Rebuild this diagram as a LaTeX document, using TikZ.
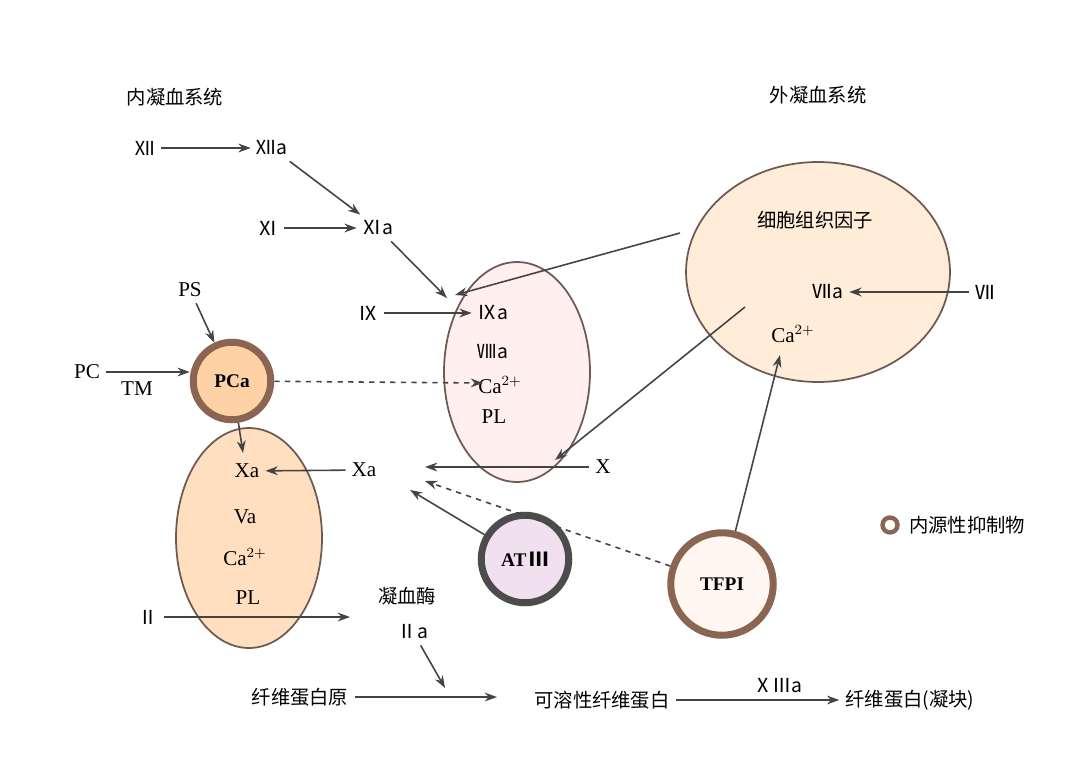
\documentclass[tikz,border=0pt]{standalone}
\usepackage{fontspec}
\setmainfont{Liberation Serif}
\newfontfamily\cjk{Noto Sans CJK SC}
\usetikzlibrary{arrows.meta,shapes.geometric}
\definecolor{ln}{HTML}{444444}
\definecolor{edge}{HTML}{6E5A52}
\definecolor{brn}{HTML}{8A6652}
\begin{document}
\begin{tikzpicture}[x=0.02cm,y=-0.02cm,
  t/.style={font=\fontsize{12}{14}\selectfont},
  c/.style={font=\cjk\fontsize{11}{13}\selectfont},
  ar/.style={draw=ln,line width=0.9pt,-{Stealth[length=7pt,width=5pt]}},
  da/.style={ar,dashed},
  r/.style={font=\cjk\fontsize{11}{13}\selectfont},
  el/.style={ellipse,draw=edge,line width=1pt,inner sep=0},
  inh/.style={circle,line width=4pt,inner sep=0,font=\fontsize{11}{13}\selectfont\bfseries}]
\useasboundingbox[fill=white] (0,0) rectangle (1074,774);
% ellipses
\node[el,fill=pink!25,minimum width=2.92cm,minimum height=4.4cm] (pink) at (517,372) {};
\node[el,fill=orange!25!white,minimum width=2.92cm,minimum height=4.4cm] (orng) at (249,538) {};
\node[el,fill=orange!15!white,minimum width=5.28cm,minimum height=4.4cm] (tiss) at (818,272) {};
% titles
\node[c] (t1) at (175,97) {内凝血系统};
\node[c] (t2) at (818,95) {外凝血系统};
% intrinsic
\node[r] (xii) at (145,148) {Ⅻ};
\node[r] (xiia) at (272,148) {Ⅻa};
\node[r] (xi) at (268,228) {Ⅺ};
\node[r] (xia) at (378,228) {Ⅺa};
\node[r] (ix) at (368,313) {Ⅸ};
\node[r] (ixa) at (493,313) {Ⅸa};
\node[r] (viiia) at (493,352) {Ⅷa};
\node[t] (ca1) at (500,385) {Ca$^{2+}$};
\node[t] (pl1) at (494,417) {PL};
\draw[ar] (xii) -- (xiia);
\draw[ar] (xi) -- (xia);
\draw[ar] (ix) -- (ixa);
\draw[ar] (xiia) -- (xia);
\draw[ar] (xia) -- (447,298);
% extrinsic
\node[c] (tf) at (815,220) {细胞组织因子};
\node[r] (viia) at (828,292) {Ⅶa};
\node[t] (ca2) at (793,334) {Ca$^{2+}$};
\node[r] (vii) at (985,292) {Ⅶ};
\draw[ar] (vii) -- (viia);
\draw[ar] (680,233) -- (455,295);
\draw[ar] (745,307) -- (555,460);
\node[t] (x) at (603,467) {X};
\draw[ar] (x) -- (425,467);
% PC
\node[t] (ps) at (190,290) {PS};
\node[inh,minimum size=1.55cm,fill=orange!35!white,draw=brn] (pca) at (232,381) {PCa};
\draw[ar] (ps) -- (pca);
\node[t] (pc) at (87,372) {PC};
\node[t] (tm) at (137,389) {TM};
\draw[ar] (pc.east) -- (pc.east -| pca.west);
\draw[da] (pca) -- (483,383);
\draw[ar] (pca) -- (243,453);
\node[t] (xa1) at (247,471) {Xa};
\node[t] (va) at (245,517) {Va};
\node[t] (ca3) at (245,557) {Ca$^{2+}$};
\node[t] (pl2) at (248,598) {PL};
\node[t] (xa2) at (364,470) {Xa};
\draw[ar] (xa2) -- (xa1);
\node[r] (ii) at (148,617) {Ⅱ};
\draw[ar] (ii) -- (350,617);
% inhibitors
\node[inh,minimum size=1.75cm,fill=violet!12!white,draw=gray!60!black] (at) at (525,559) {AT\,{\cjk Ⅲ}};
\draw[ar] (at) -- (410,490);
\node[inh,minimum size=2.05cm,fill=orange!6!white,draw=brn] (tfpi) at (722,584) {TFPI};
\draw[da] (tfpi) -- (425,481);
\draw[ar] (tfpi) -- (780,355);
% thrombin
\node[c] (thr) at (407,596) {凝血酶};
\node[r] (iia) at (413,632) {Ⅱa};
\draw[ar] (iia) -- (445,688);
\node[c] (fg) at (300,697) {纤维蛋白原};
\node[c] (sf) at (602,700) {可溶性纤维蛋白};
\node[c] (fb) at (910,700) {纤维蛋白(凝块)};
\draw[ar] (fg) -- (497,697);
\draw[ar] (sf) -- (fb);
\node[r] (xiiia) at (778,686) {ⅩⅢa};
% legend
\node[circle,minimum size=0.3cm,draw=brn,line width=2.5pt,inner sep=0] (lg) at (890,525) {};
\node[c,anchor=west] (lt) at (903,525) {内源性抑制物};
\end{tikzpicture}
\end{document}
